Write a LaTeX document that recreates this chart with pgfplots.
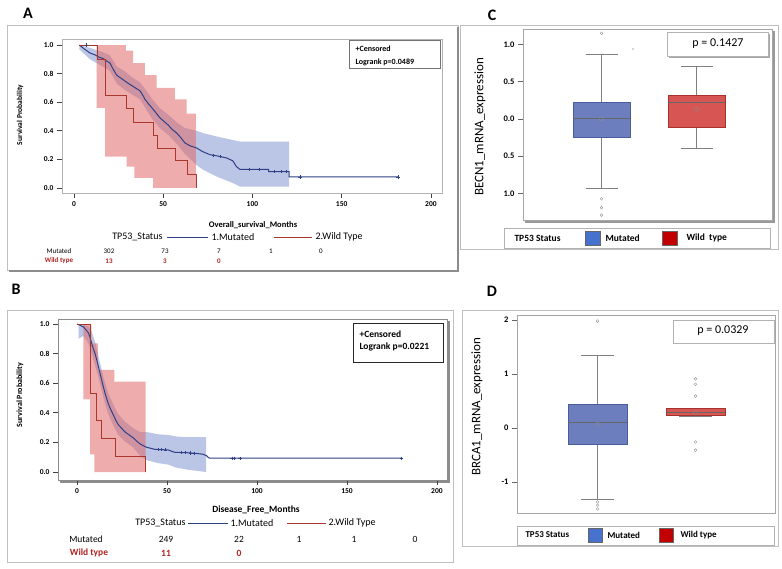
\documentclass[border=0pt]{standalone}
\usepackage{fontspec}
\setmainfont{Carlito}
\usepackage{pgfplots}
\pgfplotsset{compat=1.18}

\definecolor{kmblue}{RGB}{48,64,135}
\definecolor{bandblue}{RGB}{120,140,205}
\definecolor{kmred}{RGB}{170,55,45}
\definecolor{bandred}{RGB}{225,105,105}
\definecolor{boxblue}{RGB}{108,126,190}
\definecolor{boxblueedge}{RGB}{75,92,155}
\definecolor{boxred}{RGB}{215,85,82}
\definecolor{boxrededge}{RGB}{165,50,45}
\definecolor{legblue}{RGB}{70,114,205}
\definecolor{legred}{RGB}{195,0,0}
\definecolor{txtred}{RGB}{175,35,35}

\newcommand\fs[1]{\fontsize{#1}{#1}\selectfont}

\pgfplotsset{
  kmaxis/.style={
    scale only axis, anchor=south west,
    axis line style={draw=black!30},
    tick align=outside, xtick pos=left, ytick pos=left,
    major tick length=5pt,
    tick style={black!75, line width=0.7pt},
    /pgf/number format/assume math mode=true,
    xtick={0,50,100,150,200},
    ytick={0,0.2,0.4,0.6,0.8,1},
    yticklabel style={/pgf/number format/fixed,
      /pgf/number format/fixed zerofill, /pgf/number format/precision=1},
  },
  bxaxis/.style={
    scale only axis, anchor=south west,
    axis line style={draw=black!35},
    xtick=\empty, ytick pos=left, tick align=outside,
    major tick length=5pt,
    tick style={black!60, line width=0.6pt},
    /pgf/number format/assume math mode=true,
    ticklabel style={font=\bfseries\fs{8.5}},
    xmin=0,
  },
  whisk/.style={black!50, line width=0.6pt},
  med/.style={black!60, line width=0.6pt},
}

\begin{document}
\begin{tikzpicture}
\useasboundingbox (0,0) rectangle (782pt,568pt);
\fill[white] (0,0) rectangle (782pt,568pt);

% panel frames
\begin{scope}[x=1pt,y=-1pt,yshift=568pt]
  \draw[black!25, line width=0.6pt] (7,25) rectangle (458,270);
  \draw[black!45, line width=1.2pt] (458,27) -- (458,271) -- (9,271);
  \draw[black!25, line width=0.6pt] (7,310) rectangle (453,562);
  \draw[black!25, line width=0.6pt] (460,25) rectangle (778,249);
  \draw[black!25, line width=0.6pt] (462,310) rectangle (778,546);
  \draw[black!45, line width=1.5pt] (449,321) -- (449,482) -- (60,482);
  \draw[black!40, line width=1.5pt] (774,31) -- (774,222) -- (525,222);
  \draw[black!35, line width=1.2pt] (769,34) -- (769,57) -- (669,57);
\end{scope}

% ---------- A: overall survival ----------
\begin{axis}[kmaxis, at={(62pt,375pt)}, width=380pt, height=154pt,
  xmin=-6.7, xmax=206.2, ymin=-0.035, ymax=1.042,
  xticklabel style={font=\bfseries\fs{7.5}},
  yticklabel style={font=\bfseries\fs{7.5}}]
\addplot[fill=bandblue, fill opacity=0.5, draw=none] coordinates {
 (3,1.0) (9,0.98) (16,0.95) (20,0.93) (24,0.85) (28,0.82) (33,0.77) (37,0.74)
 (40,0.69) (44,0.62) (48,0.56) (53,0.51) (57.5,0.46) (62,0.42) (68.7,0.40)
 (72,0.385) (80,0.36) (89,0.335) (93,0.325) (120.5,0.325)
 (120.5,0.01) (93,0.01) (89,0.035) (80,0.08) (72,0.13) (68.7,0.16) (62,0.24)
 (57.5,0.31) (53,0.37) (48,0.42) (44,0.48) (40,0.56) (37,0.62) (33,0.65)
 (28,0.69) (24,0.73) (20,0.82) (16,0.85) (9,0.90) (3,0.97)} -- cycle;
\addplot[fill=bandred, fill opacity=0.55, draw=none] coordinates {
 (12.7,1.0) (29.1,1.0) (29.1,0.96) (33.2,0.96) (33.2,0.874) (39.8,0.874)
 (39.8,0.79) (46.3,0.79) (46.3,0.70) (56.6,0.70) (56.6,0.62) (63.1,0.62)
 (63.1,0.52) (68.3,0.52) (68.3,0.0) (44.4,0.0) (44.4,0.07) (33.8,0.07)
 (33.8,0.15) (29.5,0.15) (29.5,0.22) (17.4,0.22) (17.4,0.56) (12.7,0.56)} -- cycle;
\addplot[kmblue, line width=1pt] coordinates {
 (3,1.0) (6,0.97) (9,0.944) (12,0.93) (14,0.915) (16.4,0.905) (18,0.89)
 (20.2,0.874) (22,0.83) (23.9,0.79) (25.5,0.775) (27.6,0.757) (30,0.735)
 (33.2,0.71) (35,0.695) (37,0.68) (38.5,0.65) (39.8,0.62) (42,0.585)
 (44.4,0.55) (46.3,0.52) (48.2,0.49) (50.5,0.465) (52.8,0.44) (55,0.41)
 (57.5,0.385) (60,0.35) (62.2,0.315) (65,0.295) (68.7,0.28) (72,0.255)
 (76.2,0.233) (80,0.225) (85.5,0.21) (89,0.19) (91,0.15) (93,0.13)
 (109,0.13) (109,0.115) (120.5,0.115) (120.5,0.077) (181.5,0.077)};
\addplot[const plot, kmred, line width=0.7pt] coordinates {
 (3,1.0) (12.9,0.90) (17.4,0.65) (29.3,0.56) (33.2,0.46) (44.4,0.37)
 (47,0.28) (56.6,0.19) (63.6,0.093) (68.3,0.0)};
\addplot[only marks, mark=+, mark size=1.6pt, kmblue] coordinates {
 (7,1.0) (78,0.229) (82,0.22) (98,0.13) (104,0.13) (112,0.115) (116,0.115)
 (119,0.115) (126.6,0.077) (181.5,0.077)};
\end{axis}

% ---------- B: disease free ----------
\begin{axis}[kmaxis, at={(58pt,88pt)}, width=389pt, height=161pt,
  xmin=-10.6, xmax=205.6, ymin=-0.054, ymax=1.034,
  axis line style={draw=black!45},
  xticklabel style={font=\bfseries\fs{7.5}},
  yticklabel style={font=\bfseries\fs{7.5}}]
\addplot[fill=bandblue, fill opacity=0.5, draw=none] coordinates {
 (0.8,1.0) (3.5,0.995) (6.3,0.985) (8.1,0.95) (10,0.88) (11.9,0.78)
 (13.7,0.69) (15.6,0.60) (17.4,0.53) (20.2,0.455) (22.9,0.39) (26.7,0.34)
 (31.3,0.295) (35,0.27) (38.7,0.27) (45,0.255) (50.7,0.25) (55,0.24)
 (62,0.235) (71.7,0.235)
 (71.7,0.0) (62,0.015) (55,0.03) (50.7,0.05) (45,0.06) (38.7,0.08) (35,0.11)
 (31.3,0.165) (26.7,0.205) (22.9,0.25) (20.2,0.315) (17.4,0.39) (15.6,0.46)
 (13.7,0.55) (11.9,0.64) (10,0.72) (8.1,0.80) (6.3,0.87) (3.5,0.92)
 (0.8,0.90)} -- cycle;
\addplot[fill=bandred, fill opacity=0.55, draw=none] coordinates {
 (3.5,1.0) (8,1.0) (8,0.87) (11.5,0.87) (11.5,0.69) (20.8,0.69) (20.8,0.61)
 (38.1,0.61) (38.1,0.0) (9.6,0.0) (9.6,0.12) (7.2,0.12) (7.2,0.49)
 (3.5,0.49)} -- cycle;
\addplot[kmblue, line width=1pt] coordinates {
 (0,1.0) (2,0.99) (3.5,0.98) (5,0.96) (6.3,0.94) (7.2,0.91) (8.1,0.87)
 (9,0.835) (10,0.80) (11,0.755) (11.9,0.71) (12.8,0.665) (13.7,0.62)
 (14.6,0.575) (15.6,0.53) (16.5,0.495) (17.4,0.46) (18.8,0.42) (20.2,0.385)
 (21.5,0.35) (22.9,0.32) (24.8,0.295) (26.7,0.27) (29,0.25) (31.3,0.23)
 (33,0.21) (35,0.19) (36.8,0.178) (38.7,0.167) (41,0.16) (43.3,0.153)
 (50.7,0.149) (52.5,0.14) (54.4,0.133) (61.8,0.13) (66,0.126) (70,0.12)
 (72,0.11) (73,0.097) (74,0.093) (180.4,0.093)};
\addplot[const plot, kmred, line width=0.7pt] coordinates {
 (0,1.0) (7.5,0.53) (10.9,0.35) (13.7,0.227) (21,0.105) (38.1,0.0)};
\addplot[only marks, mark=+, mark size=1.6pt, kmblue] coordinates {
 (45,0.151) (47,0.151) (49,0.15) (58,0.131) (60,0.131) (63,0.129) (65,0.127)
 (86,0.093) (87.5,0.093) (90.5,0.093) (180.4,0.093)};
\end{axis}

% ---------- C: BECN1 ----------
\begin{axis}[bxaxis, at={(523pt,348pt)}, width=249pt, height=191pt,
  xmax=249, ymin=-1.356, ymax=1.208,
  ytick={-1,-0.5,0,0.5,1}, yticklabels={1.0,0.5,0.0,0.5,1.0}]
\addplot[whisk] coordinates {(78.5,0.23) (78.5,0.87)};
\addplot[whisk] coordinates {(78.5,-0.24) (78.5,-0.93)};
\addplot[whisk] coordinates {(62.5,0.87) (94.5,0.87)};
\addplot[whisk] coordinates {(62.5,-0.93) (94.5,-0.93)};
\addplot[fill=boxblue, draw=boxblueedge] coordinates {
 (50,-0.24) (107,-0.24) (107,0.23) (50,0.23)} -- cycle;
\addplot[med] coordinates {(50,0.01) (107,0.01)};
\addplot[whisk] coordinates {(173.5,0.32) (173.5,0.71)};
\addplot[whisk] coordinates {(173.5,-0.11) (173.5,-0.40)};
\addplot[whisk] coordinates {(157.5,0.71) (189.5,0.71)};
\addplot[whisk] coordinates {(157.5,-0.40) (189.5,-0.40)};
\addplot[fill=boxred, draw=boxrededge] coordinates {
 (145,-0.11) (202,-0.11) (202,0.32) (145,0.32)} -- cycle;
\addplot[med] coordinates {(145,0.23) (202,0.23)};
\addplot[only marks, mark=o, mark size=1.4pt, black!40] coordinates {
 (78.5,1.15) (78.5,-1.07) (78.5,-1.19) (78.5,-1.29)};
\addplot[only marks, mark=*, mark size=0.6pt, black!25] coordinates {(110,0.94)};
\addplot[only marks, mark=o, mark size=2pt, black!45] coordinates {
 (78.5,0.0) (173.5,0.13)};
\end{axis}

% ---------- D: BRCA1 ----------
\begin{axis}[bxaxis, at={(517pt,55pt)}, width=258pt, height=198pt,
  xmax=258, ymin=-1.574, ymax=2.093, ytick={-1,0,1,2}]
\addplot[whisk] coordinates {(80.5,0.44) (80.5,1.34)};
\addplot[whisk] coordinates {(80.5,-0.30) (80.5,-1.32)};
\addplot[whisk] coordinates {(64,1.34) (97,1.34)};
\addplot[whisk] coordinates {(64,-1.32) (97,-1.32)};
\addplot[fill=boxblue, draw=boxblueedge] coordinates {
 (51,-0.30) (110,-0.30) (110,0.44) (51,0.44)} -- cycle;
\addplot[med] coordinates {(51,0.11) (110,0.11)};
\addplot[whisk] coordinates {(162,0.21) (195,0.21)};
\addplot[fill=boxred, draw=boxrededge] coordinates {
 (149,0.24) (208,0.24) (208,0.37) (149,0.37)} -- cycle;
\addplot[med] coordinates {(149,0.30) (208,0.30)};
\addplot[only marks, mark=o, mark size=1.4pt, black!40] coordinates {
 (80.5,1.98) (80.5,-1.37) (80.5,-1.43) (80.5,-1.5)
 (178.5,0.91) (178.5,0.81) (178.5,0.59) (178.5,-0.26) (178.5,-0.41)};
\addplot[only marks, mark=o, mark size=2pt, black!45] coordinates {
 (80.5,0.07) (178.5,0.28)};
\end{axis}

% ---------- text and overlays ----------
\begin{scope}[x=1pt,y=-1pt,yshift=568pt]
  \node[font=\bfseries\fs{16}] at (28,13) {A};
  \node[font=\bfseries\fs{16}] at (16,289) {B};
  \node[font=\bfseries\fs{16}] at (492,15) {C};
  \node[font=\bfseries\fs{16}] at (492,291) {D};

  % A texts
  \node[rotate=90, font=\bfseries\fs{7.5}] at (20,115) {Survival Probability};
  \draw[black!55, fill=white, line width=0.8pt] (349,40) rectangle (440,68);
  \node[anchor=west, font=\bfseries\fs{8}] at (352,49) {+Censored};
  \node[anchor=west, font=\bfseries\fs{8}] at (352,62) {Logrank p=0.0489};
  \node[font=\bfseries\fs{8.5}] at (253,225) {Overall\_survival\_Months};
  \node[anchor=east, font=\fs{10}] at (166,237) {TP53\_Status};
  \draw[kmblue, line width=1.1pt] (167,237.5) -- (208,237.5);
  \node[anchor=west, font=\fs{10}] at (208,237) {1.Mutated};
  \draw[kmred, line width=1.1pt] (274,237.5) -- (312,237.5);
  \node[anchor=west, font=\fs{10}] at (312,237) {2.Wild Type};
  \node[font=\fs{7}] at (59,251) {Mutated};
  \node[font=\fs{7}] at (109,251) {302};
  \node[font=\fs{7}] at (165,251) {73};
  \node[font=\fs{7}] at (219,251) {7};
  \node[font=\fs{7}] at (271,251) {1};
  \node[font=\fs{7}] at (321,251) {0};
  \node[font=\bfseries\fs{7}, txtred] at (59,261) {Wild type};
  \node[font=\bfseries\fs{7}, txtred] at (109,261) {13};
  \node[font=\bfseries\fs{7}, txtred] at (165,261) {3};
  \node[font=\bfseries\fs{7}, txtred] at (219,261) {0};

  % B texts
  \node[rotate=90, font=\bfseries\fs{8}] at (20,395) {Survival Probability};
  \draw[black!85, fill=white, line width=0.9pt] (353,323) rectangle (443,362);
  \node[anchor=west, font=\bfseries\fs{9.5}] at (356,334) {+Censored};
  \node[anchor=west, font=\bfseries\fs{9.5}] at (356,347) {Logrank p=0.0221};
  \node[font=\bfseries\fs{9.5}] at (256,510) {Disease\_Free\_Months};
  \node[anchor=east, font=\fs{10}] at (189,523) {TP53\_Status};
  \draw[kmblue, line width=1.1pt] (188,523.5) -- (228,523.5);
  \node[anchor=west, font=\fs{10}] at (227,523) {1.Mutated};
  \draw[kmred, line width=1.1pt] (287,523.5) -- (326,523.5);
  \node[anchor=west, font=\fs{10}] at (325,523) {2.Wild Type};
  \node[font=\fs{9.5}] at (86,539) {Mutated};
  \node[font=\fs{9.5}] at (166,539) {249};
  \node[font=\fs{9.5}] at (239,539) {22};
  \node[font=\fs{9.5}] at (299,539) {1};
  \node[font=\fs{9.5}] at (354,539) {1};
  \node[font=\fs{9.5}] at (415,539) {0};
  \node[font=\bfseries\fs{9.5}, txtred] at (89,553) {Wild type};
  \node[font=\bfseries\fs{9.5}, txtred] at (166,553) {11};
  \node[font=\bfseries\fs{9.5}, txtred] at (239,553) {0};

  % C texts
  \node[rotate=90, font=\fs{13}] at (480,127) {BECN1\_mRNA\_expression};
  \draw[black!30, fill=white, line width=0.6pt] (667,32) rectangle (768,56);
  \node[font=\fs{12}] at (718,44) {p = 0.1427};
  \draw[black!30, line width=0.6pt] (504,228) rectangle (770,248);
  \node[anchor=west, font=\bfseries\fs{9.5}] at (511,238) {TP53 Status};
  \draw[black!60, fill=legblue] (585,231) rectangle (600,245);
  \node[anchor=west, font=\bfseries\fs{9.5}] at (602,238) {Mutated};
  \draw[black!60, fill=legred] (662,231) rectangle (677,245);
  \node[anchor=west, font=\bfseries\fs{9.5}] at (683,238) {Wild\ \ type};

  % D texts
  \node[rotate=90, font=\fs{13}] at (477,407) {BRCA1\_mRNA\_expression};
  \draw[black!30, fill=white, line width=0.6pt] (673,320) rectangle (774,343);
  \node[font=\fs{12}] at (723,331) {p = 0.0329};
  \draw[black!30, line width=0.6pt] (517,526) rectangle (774,545);
  \node[anchor=west, font=\bfseries\fs{9}] at (522,535) {TP53 Status};
  \draw[black!60, fill=legblue] (588,528) rectangle (602,542);
  \node[anchor=west, font=\bfseries\fs{9}] at (604,535) {Mutated};
  \draw[black!60, fill=legred] (659,528) rectangle (673,542);
  \node[anchor=west, font=\bfseries\fs{9}] at (677,535) {Wild type};
\end{scope}
\end{tikzpicture}
\end{document}
